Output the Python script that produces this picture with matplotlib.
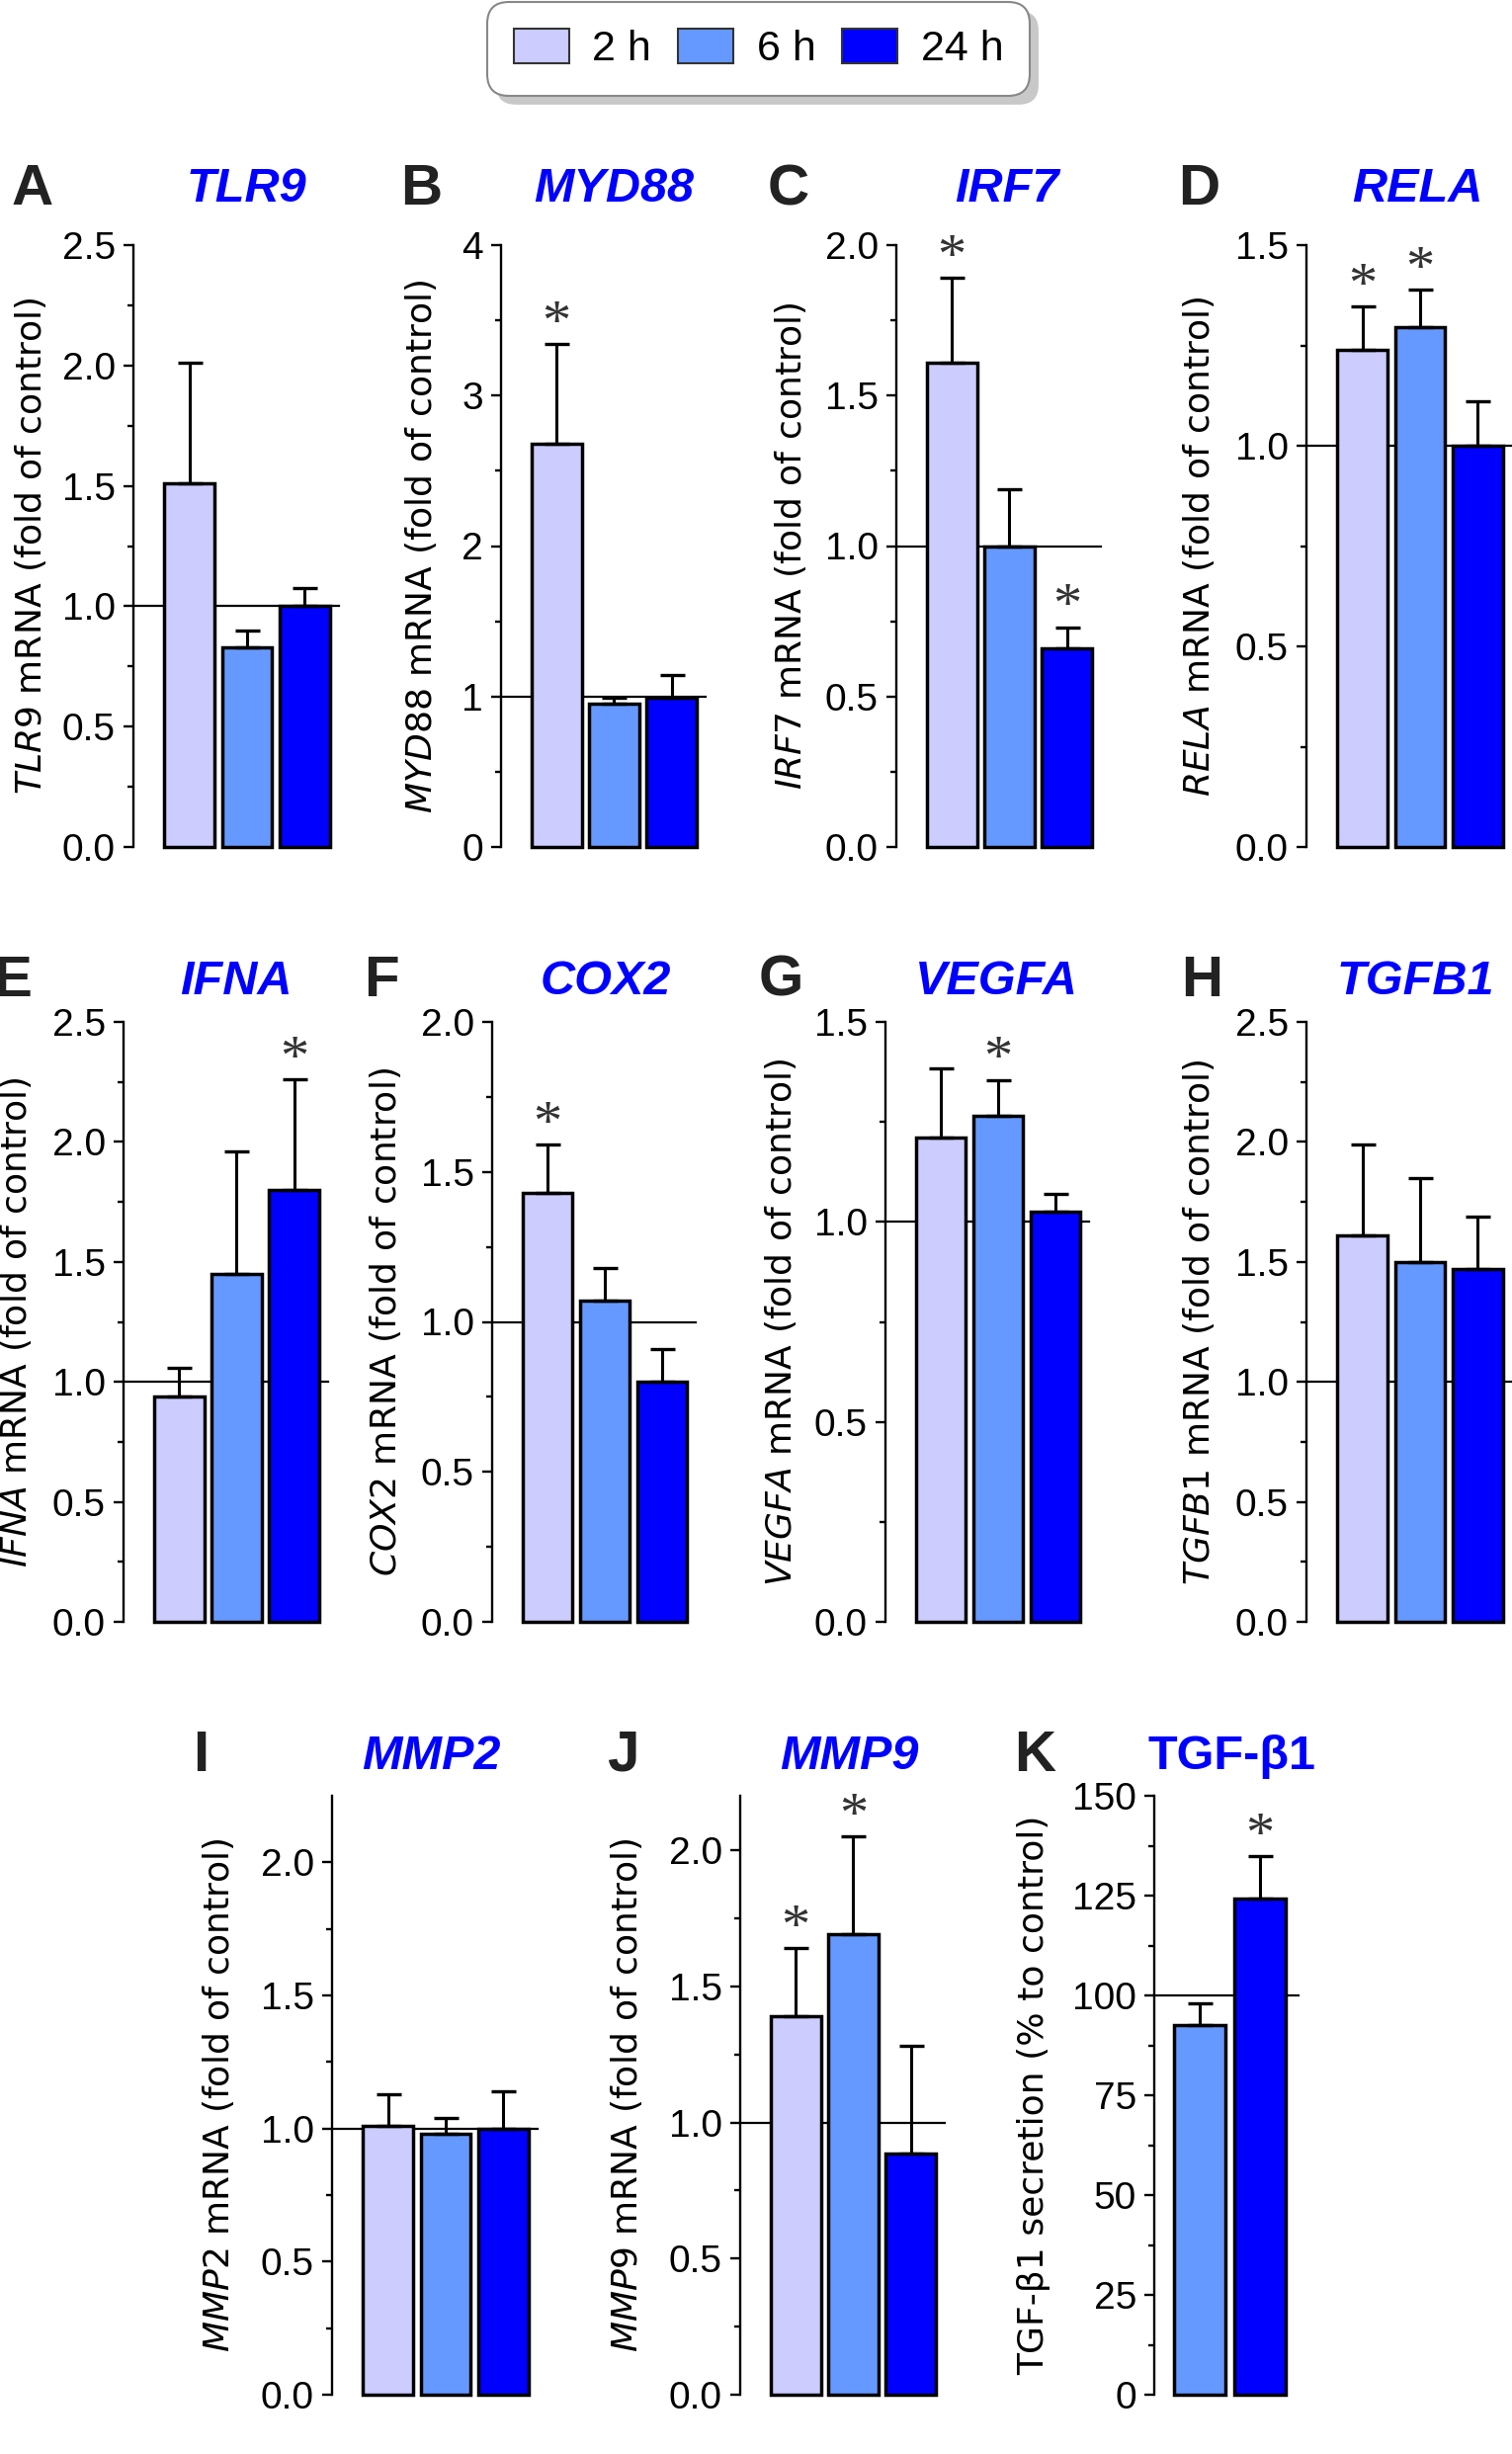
import numpy as np
import matplotlib
matplotlib.use("Agg")
import matplotlib.pyplot as plt
from matplotlib.patches import Patch, FancyBboxPatch
from matplotlib.ticker import MultipleLocator, FixedLocator, FormatStrFormatter
from matplotlib.transforms import IdentityTransform

plt.rcParams['font.family'] = ['Liberation Sans', 'DejaVu Sans']
plt.rcParams['mathtext.fontset'] = 'dejavusans'

# ---- data -------------------------------------------------------------
times = ['2 h', '6 h', '24 h']
colors = ['#CCCCFF', '#6699FF', '#0000FF']

letters = ['A', 'B', 'C', 'D', 'E', 'F', 'G', 'H', 'I', 'J', 'K']
genes = ['TLR9', 'MYD88', 'IRF7', 'RELA', 'IFNA', 'COX2', 'VEGFA', 'TGFB1',
         'MMP2', 'MMP9', 'TGF-β1']

tlr9 = [1.51, 0.83, 1.00]
tlr9_err = [0.50, 0.07, 0.075]
myd88 = [2.68, 0.95, 0.99]
myd88_err = [0.66, 0.04, 0.15]
irf7 = [1.61, 1.00, 0.66]
irf7_err = [0.28, 0.19, 0.07]
rela = [1.24, 1.295, 1.00]
rela_err = [0.107, 0.093, 0.11]
ifna = [0.94, 1.45, 1.80]
ifna_err = [0.12, 0.51, 0.46]
cox2 = [1.43, 1.07, 0.80]
cox2_err = [0.16, 0.11, 0.11]
vegfa = [1.21, 1.265, 1.025]
vegfa_err = [0.175, 0.09, 0.045]
tgfb1 = [1.61, 1.50, 1.47]
tgfb1_err = [0.38, 0.35, 0.22]
mmp2 = [1.01, 0.98, 1.00]
mmp2_err = [0.12, 0.06, 0.14]
mmp9 = [1.39, 1.69, 0.885]
mmp9_err = [0.25, 0.36, 0.395]
tgfb1_secr = [92.5, 124.2]          # only 6 h and 24 h
tgfb1_secr_err = [5.5, 10.6]

means = [tlr9, myd88, irf7, rela, ifna, cox2, vegfa, tgfb1, mmp2, mmp9, tgfb1_secr]
errs = [tlr9_err, myd88_err, irf7_err, rela_err, ifna_err, cox2_err, vegfa_err,
        tgfb1_err, mmp2_err, mmp9_err, tgfb1_secr_err]
stars = [[0, 0, 0], [1, 0, 0], [1, 0, 1], [1, 1, 0], [0, 0, 1], [1, 0, 0],
         [0, 1, 0], [0, 0, 0], [0, 0, 0], [1, 1, 0], [0, 1]]
ylims = [2.5, 4, 2.0, 1.5, 2.5, 2.0, 1.5, 2.5, 2.25, 2.2, 150]
ref_level = [1, 1, 1, 1, 1, 1, 1, 1, 1, 1, 100]

# ---- layout (pixels in a 1530x2483 canvas) ------------------------------
W, H = 1530, 2483
boxes = [(135, 343, 248, 857), (507, 714, 248, 857), (907, 1114, 248, 857),
         (1322, 1530, 248, 857),
         (125, 332, 1034, 1641), (498, 704, 1034, 1641), (896, 1102, 1034, 1641),
         (1322, 1530, 1034, 1641),
         (336, 544, 1817, 2423), (749, 956, 1817, 2423), (1168, 1314, 1817, 2423)]
letter_pos = [(12, 207), (405, 207), (777, 207), (1192, 207),
              (-7, 1008), (368, 1008), (768, 1008), (1195, 1008),
              (195, 1792), (614, 1792), (1026, 1792)]
title_pos = [(249, 204), (621, 204), (1019, 204), (1434, 204),
             (239, 1006), (613, 1006), (1008, 1006), (1432, 1006),
             (436, 1790), (859, 1790), (1246, 1790)]
label_off = [-86, -63, -89, -91, -91, -90, -88, -91, -97, -97, -105]

fig = plt.figure(figsize=(W / 100, H / 100), dpi=100)

for i in range(11):
    x0, x1, yt, yb = boxes[i]
    ax = fig.add_axes([x0 / W, 1 - yb / H, (x1 - x0) / W, (yb - yt) / H])
    m = means[i]
    e = errs[i]
    if i == 10:
        x = np.arange(2)
        cols = colors[1:]
        ax.set_xlim(-0.76, 1.65)
        w = 0.86
    else:
        x = np.arange(3)
        cols = colors
        ax.set_xlim(-0.966, 2.59)
        w = 0.87
    ax.axhline(ref_level[i], color='black', lw=1.6, zorder=1, clip_on=False)
    ax.bar(x, m, width=w, color=cols, edgecolor='black', linewidth=2.5,
           zorder=2, clip_on=False)
    ax.errorbar(x, m, yerr=[np.zeros(len(m)), e], fmt='none', ecolor='black',
                elinewidth=2.2, capsize=9, capthick=2.4, zorder=3, clip_on=False)
    for j, s in enumerate(stars[i]):
        if s:
            ax.annotate('*', xy=(x[j], m[j] + e[j]), xytext=(0, 4),
                        textcoords='offset points', ha='center', va='baseline',
                        fontsize=42, family='Liberation Serif', color='#333333',
                        annotation_clip=False)

    ax.set_ylim(0, ylims[i])
    for sp in ['top', 'right', 'bottom']:
        ax.spines[sp].set_visible(False)
    ax.spines['left'].set_linewidth(1.7)
    ax.set_xticks([])
    if i == 1:
        ax.yaxis.set_major_locator(MultipleLocator(1))
        ax.yaxis.set_minor_locator(FixedLocator([0.5, 1.5, 2.5, 3.5]))
        ax.yaxis.set_major_formatter(FormatStrFormatter('%d'))
    elif i == 10:
        ax.yaxis.set_major_locator(MultipleLocator(25))
        ax.yaxis.set_minor_locator(FixedLocator(np.arange(12.5, 150, 25)))
        ax.yaxis.set_major_formatter(FormatStrFormatter('%d'))
    else:
        ax.yaxis.set_major_locator(MultipleLocator(0.5))
        top = ylims[i]
        ax.yaxis.set_minor_locator(FixedLocator(np.arange(0.25, top - 0.01, 0.5)))
        ax.yaxis.set_major_formatter(FormatStrFormatter('%.1f'))
    ax.tick_params(axis='y', which='major', length=7, width=1.7, labelsize=28, pad=6)
    ax.tick_params(axis='y', which='minor', length=4, width=1.7)

    if i == 10:
        lab = 'TGF-β1 secretion (% to control)'
    else:
        lab = r'$\mathit{' + genes[i] + '}$ mRNA (fold of control)'
    ax.set_ylabel(lab, fontsize=26, family='DejaVu Sans')
    ax.yaxis.set_label_coords(label_off[i] / (x1 - x0), 0.5)

    lx, ly = letter_pos[i]
    fig.text(lx / W, 1 - ly / H, letters[i], fontsize=42, fontweight='bold',
             color='#222222', ha='left', va='baseline')
    tx, ty = title_pos[i]
    fig.text(tx / W, 1 - ty / H, genes[i], fontsize=35, fontweight='bold',
             style='normal' if i == 10 else 'italic', color='#0000FF',
             ha='center', va='baseline')

handles = [Patch(facecolor=c, edgecolor='#333333', linewidth=1.5) for c in colors]
leg = fig.legend(handles, times, loc='upper center',
                 bbox_to_anchor=(767.5 / W, 1 - 2 / H), ncol=3, fontsize=31,
                 frameon=True, fancybox=True, handlelength=1.3, handleheight=0.88,
                 handletextpad=0.55, columnspacing=0.62, borderpad=0.62,
                 borderaxespad=0, edgecolor='#888888', framealpha=1)
leg.get_frame().set_linewidth(1.5)
leg.get_frame().set_boxstyle('round', pad=0, rounding_size=0.5)

fig.canvas.draw()
bb = leg.get_window_extent()
shadow = FancyBboxPatch((bb.x0 + 9, bb.y0 - 9), bb.width, bb.height,
                        boxstyle='round,pad=0,rounding_size=20',
                        transform=IdentityTransform(), facecolor='#c8c8c8',
                        edgecolor='none', zorder=leg.get_zorder() - 0.5)
fig.add_artist(shadow)
shadow.set_transform(IdentityTransform())

fig.savefig('out.png', dpi=100)
